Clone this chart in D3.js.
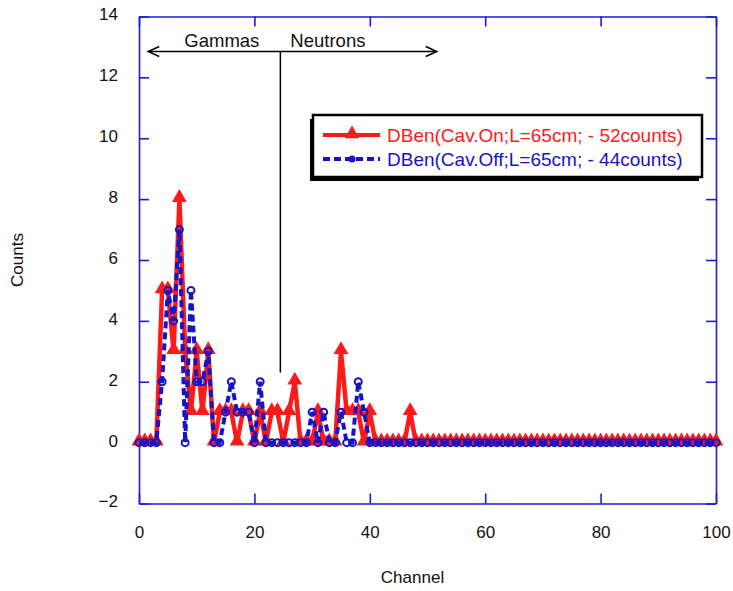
<!DOCTYPE html>
<html>
<head>
<meta charset="utf-8">
<script src="https://cdn.jsdelivr.net/npm/d3@7"></script>
<style>
  body { margin: 0; background: #fff; }
  text { font-family: "Liberation Sans", Arial, sans-serif; }
</style>
</head>
<body>
<div id="container"></div>
<script>
/* DATA */
const channels = d3.range(0, 101);
// Cav.On, 52 counts (channels 0..47, rest are zero)
const countsOn = [0, 0, 0, 0, 5, 5, 3, 8, 3, 1, 3, 1, 3, 0, 1, 1, 1, 0, 1, 1,
  0, 1, 0, 1, 1, 0, 1, 2, 0, 0, 0, 1, 0, 0, 0, 3, 1, 1, 1, 0,
  1, 0, 0, 0, 0, 0, 0, 1];
// Cav.Off, 44 counts (channels 0..39, rest are zero)
const countsOff = [0, 0, 0, 0, 2, 5, 4, 7, 0, 5, 2, 2, 3, 0, 0, 1, 2, 1, 1, 1,
  0, 2, 0, 0, 0, 0, 0, 0, 0, 0, 1, 0, 1, 0, 0, 1, 0, 0, 2, 1];
const xTicks = [0, 20, 40, 60, 80, 100];
const yTicks = [-2, 0, 2, 4, 6, 8, 10, 12, 14];
const legendLabels = ["DBen(Cav.On;L=65cm; - 52counts)", "DBen(Cav.Off;L=65cm; - 44counts)"];
const regionLabels = ["Gammas", "Neutrons"];

const onData = channels.map(c => ({ c, v: countsOn[c] || 0 }));
const offData = channels.map(c => ({ c, v: countsOff[c] || 0 }));

/* CONSTANTS */
const width = 733, height = 591;
const mLeft = 139, mRight = 716, mTop = 16.5, mBottom = 503.5;
const red = "#ff1a1a", blue = "#1414c8", axisBlue = "#1a1ae6";

const svg = d3.select("#container").append("svg")
  .attr("width", width).attr("height", height);

/* SCALES */
const x = d3.scaleLinear().domain([0, 100]).range([mLeft, mRight]);
const y = d3.scaleLinear().domain([-2, 14]).range([mBottom, mTop]);

/* AXES: ticks inside on all four sides */
const tick = 10;
svg.append("g").attr("transform", `translate(0,${mBottom})`)
  .call(d3.axisBottom(x).tickValues(xTicks).tickSizeInner(-tick).tickSizeOuter(0).tickPadding(tick + 12))
  .call(g => g.selectAll("text").attr("font-size", 17).attr("fill", "#111"));
svg.append("g").attr("transform", `translate(0,${mTop})`)
  .call(d3.axisTop(x).tickValues(xTicks).tickSizeInner(-tick).tickSizeOuter(0).tickFormat(""));
svg.append("g").attr("transform", `translate(${mLeft},0)`)
  .call(d3.axisLeft(y).tickValues(yTicks).tickSizeInner(-tick).tickSizeOuter(0).tickPadding(tick + 11))
  .call(g => g.selectAll("text").attr("font-size", 17).attr("fill", "#111").attr("dy", "0.2em"));
svg.append("g").attr("transform", `translate(${mRight},0)`)
  .call(d3.axisRight(y).tickValues(yTicks).tickSizeInner(-tick).tickSizeOuter(0).tickFormat(""));
svg.selectAll(".domain, .tick line").attr("stroke", axisBlue).attr("stroke-width", 1.6);

/* AXIS TITLES */
svg.append("text").attr("x", (mLeft + mRight) / 2 - 15).attr("y", 583)
  .attr("text-anchor", "middle").attr("font-size", 17).attr("fill", "#111").text("Channel");
svg.append("text").attr("transform", `translate(23,${y(6)}) rotate(-90)`)
  .attr("text-anchor", "middle").attr("font-size", 17).attr("fill", "#111").text("Counts");

/* SERIES */
const line = d3.line().x(d => x(d.c)).y(d => y(d.v));
const tri = d3.symbol().type(d3.symbolTriangle).size(95);

svg.append("path").datum(onData)
  .attr("d", line).attr("fill", "none").attr("stroke", red).attr("stroke-width", 4.5)
  .attr("stroke-linejoin", "miter");
svg.append("g").selectAll("path").data(onData).join("path")
  .attr("d", tri).attr("fill", red)
  .attr("transform", d => `translate(${x(d.c)},${y(d.v) - 1.5})`);

svg.append("path").datum(offData)
  .attr("d", line).attr("fill", "none").attr("stroke", blue).attr("stroke-width", 4)
  .attr("stroke-dasharray", "7,4");
svg.append("g").selectAll("circle").data(offData).join("circle")
  .attr("cx", d => x(d.c)).attr("cy", d => y(d.v)).attr("r", 3.5)
  .attr("fill", "none").attr("stroke", blue).attr("stroke-width", 2);

/* GAMMAS / NEUTRONS ANNOTATION */
const split = 24.5, arrowY = 12.85;
const ann = svg.append("g").attr("stroke", "#000").attr("stroke-width", 1.5).attr("fill", "none");
ann.append("line").attr("x1", x(1.6)).attr("x2", x(51.6)).attr("y1", y(arrowY)).attr("y2", y(arrowY));
ann.append("path").attr("d", `M${x(1.6) + 11},${y(arrowY) - 5}L${x(1.6)},${y(arrowY)}L${x(1.6) + 11},${y(arrowY) + 5}`);
ann.append("path").attr("d", `M${x(51.6) - 11},${y(arrowY) - 5}L${x(51.6)},${y(arrowY)}L${x(51.6) - 11},${y(arrowY) + 5}`);
ann.append("line").attr("x1", x(split)).attr("x2", x(split)).attr("y1", y(arrowY)).attr("y2", y(2.3));
svg.append("text").attr("x", x(split) - 21).attr("y", y(arrowY) - 5)
  .attr("text-anchor", "end").attr("font-size", 18.5).attr("fill", "#111").text(regionLabels[0]);
svg.append("text").attr("x", x(split) + 10).attr("y", y(arrowY) - 5)
  .attr("font-size", 18.5).attr("fill", "#111").text(regionLabels[1]);

/* LEGEND */
const lg = svg.append("g").attr("transform", "translate(313,115)");
lg.append("rect").attr("x", -3).attr("y", 4).attr("width", 389).attr("height", 62).attr("fill", "#000");
lg.append("rect").attr("width", 389).attr("height", 62).attr("fill", "#fff")
  .attr("stroke", "#000").attr("stroke-width", 2.5);
[[red, null], [blue, "7,4"]].forEach(([col, dash], i) => {
  const ly = 20 + i * 24;
  lg.append("line").attr("x1", 10).attr("x2", 67).attr("y1", ly).attr("y2", ly)
    .attr("stroke", col).attr("stroke-width", 4).attr("stroke-dasharray", dash);
  if (i === 0) lg.append("path").attr("d", tri).attr("fill", red).attr("transform", `translate(39,${ly - 1})`);
  else lg.append("circle").attr("cx", 39).attr("cy", ly).attr("r", 3.5).attr("fill", blue);
  lg.append("text").attr("x", 74).attr("y", ly + 6.5).attr("font-size", 19).attr("fill", col)
    .text(legendLabels[i]);
});
</script>
</body>
</html>
